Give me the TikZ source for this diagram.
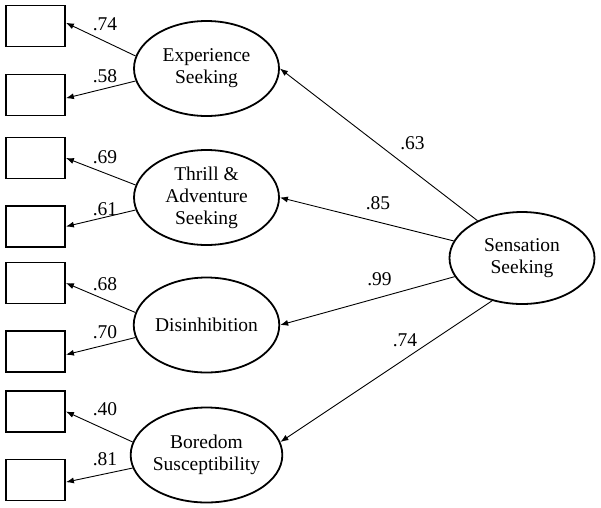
\documentclass[tikz,border=0pt]{standalone}
\usepackage{fontspec}
\setmainfont{Liberation Serif}
\usetikzlibrary{shapes.geometric,arrows.meta}
\tikzset{
  latent/.style = {ellipse, draw, line width=1.8pt, inner sep=0pt,
                   minimum width=#1, minimum height=95pt, align=center},
  latent/.default = 145pt,
  indicator/.style = {rectangle, draw, line width=1.8pt,
                      minimum width=59pt, minimum height=41pt},
  load/.style = {-{Latex[length=8pt,width=6pt]}, line width=0.9pt},
  coef/.style = {inner sep=0pt}
}

\begin{document}
\begin{tikzpicture}[x=1pt, y=-1pt, font=\fontsize{19.5}{22}\selectfont]
	\useasboundingbox (0,0) rectangle (601,507);
	\def \bx{35.5}
	\def \fx{206.5}
	\def \cx{105}

	% Indicators
	\node[indicator] (i1) at (\bx,26) {};
	\node[indicator] (i2) at (\bx,95) {};
	\node[indicator] (i3) at (\bx,158) {};
	\node[indicator] (i4) at (\bx,226.5) {};
	\node[indicator] (i5) at (\bx,283) {};
	\node[indicator] (i6) at (\bx,351.5) {};
	\node[indicator] (i7) at (\bx,411.5) {};
	\node[indicator] (i8) at (\bx,480) {};

	% Factors
	\node[latent] (exp) at (\fx,68.5) {Experience\\Seeking};
	\node[latent] (thr) at (\fx,197.5) {Thrill \&\\Adventure\\Seeking};
	\node[latent] (dis) at (\fx,325) {Disinhibition};
	\node[latent] (bor) at (\fx,455) {Boredom\\Susceptibility};
	\node[latent, minimum height=92pt] (ss) at (522,258) {Sensation\\Seeking};

	% Second order loadings
	\draw[load] (ss.140) -- (exp.east);
	\draw[load] (ss) -- (thr.east);
	\draw[load] (ss) -- (dis.east);
	\draw[load] (ss.-125) -- (bor.10);

	% First order loadings
	\draw[load] (exp.170) -- (i1.6);
	\draw[load] (exp.190) -- (i2.-6);
	\draw[load] (thr.170) -- (i3.east);
	\draw[load] (thr.190) -- (i4.east);
	\draw[load] (dis.170) -- (i5.east);
	\draw[load] (dis.190) -- (i6.-6);
	\draw[load] (bor.170) -- (i7.east);
	\draw[load] (bor.190) -- (i8.-4);

	% Coefficients
	\node[coef] (c1) at (\cx,24) {.74};
	\node[coef] (c2) at (\cx,76) {.58};
	\node[coef] (c3) at (\cx,157.5) {.69};
	\node[coef] (c4) at (\cx,209) {.61};
	\node[coef] (c5) at (\cx,284) {.68};
	\node[coef] (c6) at (\cx,332.5) {.70};
	\node[coef] (c7) at (\cx,409.5) {.40};
	\node[coef] (c8) at (\cx,459.5) {.81};
	\node[coef] (g1) at (412.5,143) {.63};
	\node[coef] (g2) at (378,203) {.85};
	\node[coef] (g3) at (379.5,279.5) {.99};
	\node[coef] (g4) at (405,340) {.74};
\end{tikzpicture}
\end{document}
